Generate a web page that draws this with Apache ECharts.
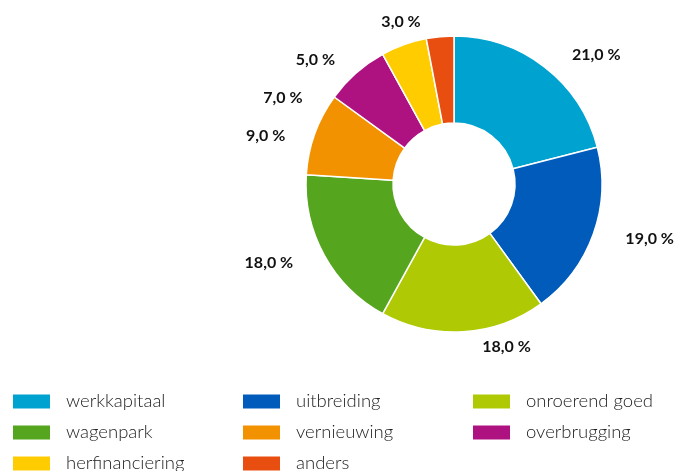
<!DOCTYPE html>
<html>
<head>
<meta charset="utf-8">
<script src="https://cdn.jsdelivr.net/npm/echarts@6/dist/echarts.min.js"></script>
<style>
  html, body { margin: 0; padding: 0; background: #fff; }
  #chart { width: 677px; height: 471px; }
</style>
</head>
<body>
<div id="chart"></div>
<script>
  // categorieën en aandelen (%)
  const categories = ['werkkapitaal', 'uitbreiding', 'onroerend goed', 'wagenpark', 'vernieuwing', 'overbrugging', 'herfinanciering', 'anders'];
  const shares = [21, 19, 18, 18, 9, 7, 5, 3];
  const colors = ['#00a3d0', '#005bbb', '#afca05', '#55a51f', '#f39200', '#ae1280', '#ffcc00', '#e84e0f'];

  // legenda in drie kolommen
  const legendColumns = [
    ['werkkapitaal', 'wagenpark', 'herfinanciering'],
    ['uitbreiding', 'vernieuwing', 'anders'],
    ['onroerend goed', 'overbrugging']
  ];

  const chart = echarts.init(document.getElementById('chart'));

  const legendBase = {
    orient: 'vertical',
    top: 392,
    height: 150,
    itemWidth: 39,
    itemHeight: 16,
    itemGap: 12,
    icon: 'rect',
    selectedMode: false,
    padding: 0,
    textStyle: {
      fontFamily: 'Lato',
      fontSize: 18.5,
      fontWeight: 300,
      color: '#222',
      lineHeight: 16,
      padding: [0, 0, 0, 10]
    }
  };
  const legendLefts = [11, 241, 471];

  const option = {
    backgroundColor: '#fff',
    color: colors,
    animation: false,
    legend: legendColumns.map((col, i) => Object.assign({}, legendBase, {
      left: legendLefts[i],
      data: col
    })),
    series: [{
      type: 'pie',
      center: [454, 184],
      radius: [61, 148],
      startAngle: 90,
      clockwise: true,
      avoidLabelOverlap: true,
      itemStyle: {
        borderColor: '#fff',
        borderWidth: 1.5
      },
      label: {
        show: true,
        position: 'outside',
        overflow: 'none',
        fontFamily: 'Lato',
        fontWeight: 'bold',
        fontSize: 16,
        lineHeight: 36,
        color: '#111',
        formatter: (p) => p.value.toFixed(1).replace('.', ',') + ' %'
      },
      labelLine: {
        show: false,
        length: 15,
        length2: 13
      },
      data: categories.map((name, i) => ({ name: name, value: shares[i] }))
    }]
  };

  chart.setOption(option);
</script>
</body>
</html>
